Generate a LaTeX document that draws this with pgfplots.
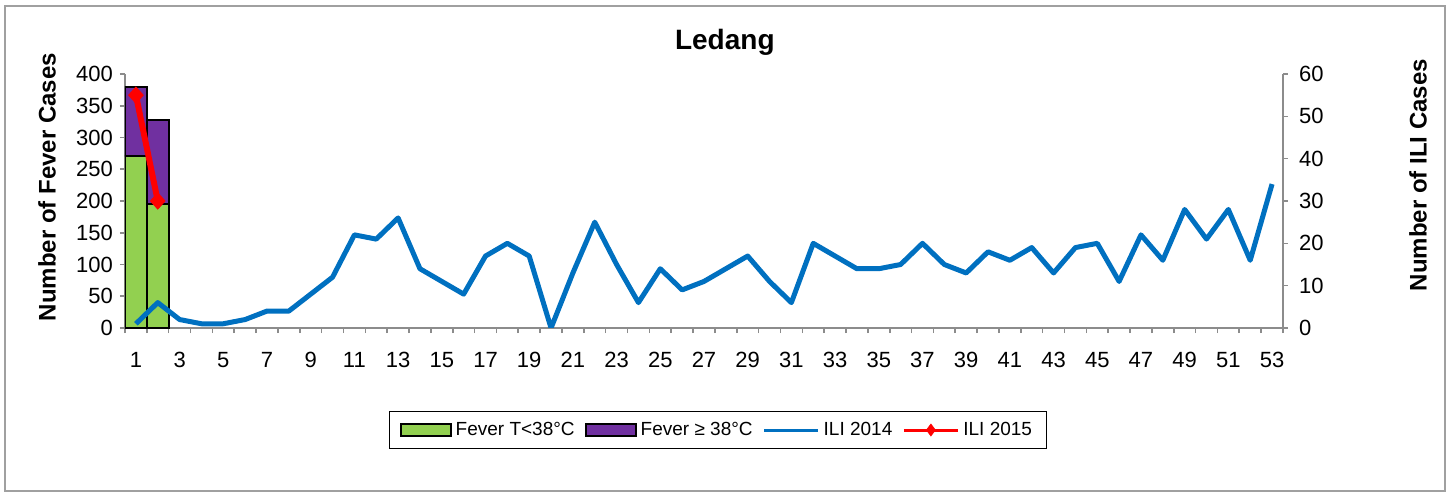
\documentclass[border=0pt]{standalone}
\usepackage{fontspec}
\setmainfont{Liberation Sans}
\usepackage{pgfplots}
\usepackage{pgfplotstable}
\pgfplotsset{compat=1.18}
\definecolor{fgreen}{HTML}{92D050}
\definecolor{fpurple}{HTML}{7030A0}
\definecolor{iliblue}{HTML}{0070C0}
\definecolor{axgray}{HTML}{8C8C8C}
\definecolor{framegray}{HTML}{A0A0A0}

\pgfplotstableread{
week ili
1 1
2 6
3 2
4 1
5 1
6 2
7 4
8 4
9 8
10 12
11 22
12 21
13 26
14 14
15 11
16 8
17 17
18 20
19 17
20 0
21 13
22 25
23 15
24 6
25 14
26 9
27 11
28 14
29 17
30 11
31 6
32 20
33 17
34 14
35 14
36 15
37 20
38 15
39 13
40 18
41 16
42 19
43 13
44 19
45 20
46 11
47 22
48 16
49 28
50 21
51 28
52 16
53 34
}\iliA

\pgfplotstableread{
week low high
1 271 108
2 196 132
}\fever

\pgfplotstableread{
week ili
1 55
2 30
}\iliB

\pgfplotsset{
  common/.style={
    at={(0,0)}, anchor=south west,
    scale only axis, width=579pt, height=127pt,
    xmin=0.5, xmax=53.5,
    axis line style={-, draw=axgray, line width=0.8pt},
    tick style={draw=axgray, line width=0.8pt},
    tick align=outside,
    major tick length=2.5pt, minor tick length=2.5pt,
    tick label style={font=\fontsize{11}{13}\selectfont},
    /pgf/number format/assume math mode=true,
    ylabel style={font=\bfseries\fontsize{12}{14}\selectfont},
  },
  barlegend/.style={legend image code/.code={\draw[##1] (0pt,-3pt) rectangle (25pt,3pt);}},
  linelegend/.style={legend image code/.code={\draw[##1] (0pt,0pt) -- (27pt,0pt);}},
  marklegend/.style={legend image code/.code={\draw[##1, mark=none] (0pt,0pt) -- (27pt,0pt); \draw[##1] plot coordinates {(13.5pt,0pt)};}},
}

\begin{document}
\begin{tikzpicture}
\useasboundingbox (-62.5pt,-82.5pt) rectangle (664pt,164pt);
\draw[framegray, line width=1pt] (-60pt,-81.5pt) rectangle (660pt,161pt);
\begin{axis}[
  common,
  ymin=0, ymax=400,
  axis x line*=bottom, axis y line*=left,
  ybar stacked, bar width=1,
  xtick={1,3,...,53},
  major x tick style={draw=none},
  minor xtick={0.5,1.5,...,53.5},
  ytick={0,50,...,400},
  xticklabel style={anchor=base, yshift=-17pt},
  ylabel={Number of Fever Cases},
  ylabel style={at={(axis description cs:-0.0674,0.555)}, anchor=center},
  title={Ledang},
  title style={font=\bfseries\fontsize{14}{16}\selectfont, at={(axis description cs:0.518,1.079)}, anchor=center, yshift=0pt},
  legend columns=4,
  legend style={at={(axis description cs:0.512,-0.4016)}, anchor=center, draw=black,
    font=\fontsize{9.5}{11}\selectfont, inner xsep=5pt, inner ysep=3pt,
    /tikz/every even column/.append style={column sep=3pt}},
]
\addplot[fill=fgreen, draw=black, line width=1pt, barlegend]
  table[x=week, y=low]{\fever};
\addlegendentry{Fever T<38°C}
\addplot[fill=fpurple, draw=black, line width=1pt, barlegend]
  table[x=week, y=high]{\fever};
\addlegendentry{Fever ≥ 38°C}
\addlegendimage{iliblue, line width=1.5pt, linelegend}
\addlegendentry{ILI 2014}
\addlegendimage{red, line width=1.5pt, mark=diamond*, mark size=3pt, mark options={solid, line width=0.3pt}, marklegend}
\addlegendentry{ILI 2015}
\end{axis}
\begin{axis}[
  common,
  ymin=0, ymax=60,
  axis x line=none, axis y line*=right,
  ytick={0,10,...,60},
  yticklabel style={xshift=2pt},
  ylabel={Number of ILI Cases},
  ylabel style={at={(axis description cs:1.1166,0.602)}, anchor=center},
]
\addplot[iliblue, line width=2.5pt, line join=round] table[x=week, y=ili]{\iliA};
\addplot[draw=red, line width=3pt, mark=diamond*, mark size=4pt, mark options={solid, fill=red, draw=red, line width=0.5pt, xscale=1.2}] table[x=week, y=ili]{\iliB};
\end{axis}
\end{tikzpicture}
\end{document}
